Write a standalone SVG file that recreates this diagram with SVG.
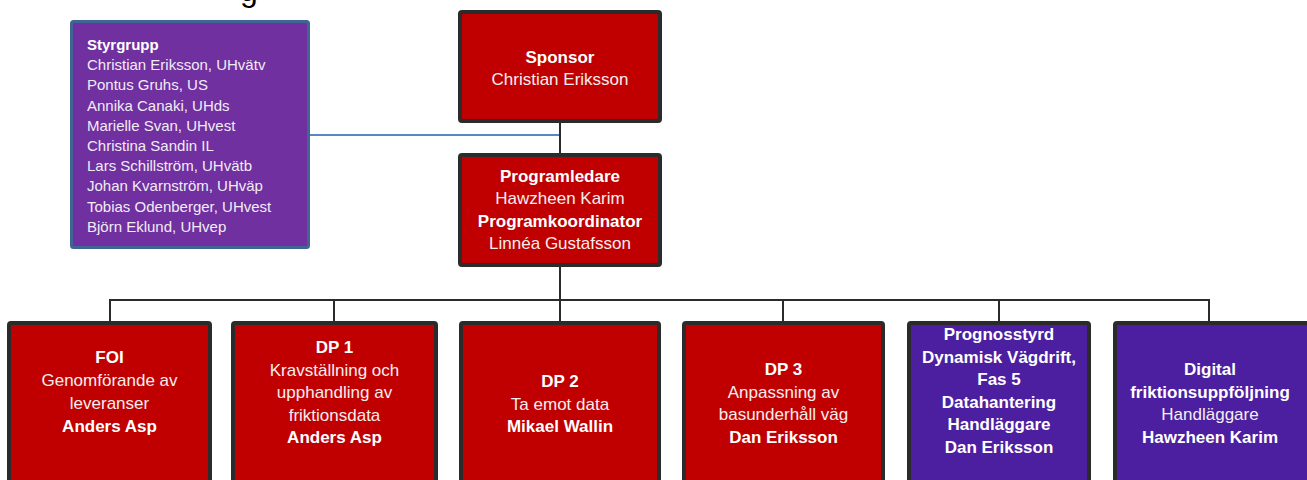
<svg xmlns="http://www.w3.org/2000/svg" width="1307" height="480" viewBox="0 0 1307 480">
<style>
  text { font-family: "Liberation Sans", Arial, sans-serif; }
  .box { stroke: #2b2b2b; stroke-width: 4; }
  .red { fill: #c00000; }
  .vio { fill: #4b1fa0; }
  .t { font-size: 17px; fill: #f4eeee; text-anchor: middle; }
  .b { font-weight: bold; fill: #ffffff; }
  .s { font-size: 15px; fill: #f1ecf6; }
  .conn { stroke: #2b2b2b; stroke-width: 2; fill: none; }
</style>
<rect width="1307" height="480" fill="#ffffff"/>
<text x="240" y="1" font-size="32" fill="#000000">g</text>
<g id="connectors">
  <line x1="310" y1="135" x2="559" y2="135" stroke="#5b87c5" stroke-width="2"/>
  <line class="conn" x1="560" y1="123" x2="560" y2="153"/>
  <line class="conn" x1="560" y1="267" x2="560" y2="321"/>
  <path class="conn" d="M110 321 V300 H1209 V321"/>
  <line class="conn" x1="334" y1="300" x2="334" y2="321"/>
  <line class="conn" x1="783" y1="300" x2="783" y2="321"/>
  <line class="conn" x1="999" y1="300" x2="999" y2="321"/>
</g>
<g id="styrgrupp">
  <rect x="71.5" y="21.5" width="237" height="226" rx="2" fill="#7030a0" stroke="#3f6594" stroke-width="3"/>
  <text class="s" x="87" y="50"><tspan font-weight="bold" fill="#ffffff">Styrgrupp</tspan><tspan x="87" dy="20.2">Christian Eriksson, UHvätv</tspan><tspan x="87" dy="20.2">Pontus Gruhs, US</tspan><tspan x="87" dy="20.2">Annika Canaki, UHds</tspan><tspan x="87" dy="20.2">Marielle Svan, UHvest</tspan><tspan x="87" dy="20.2">Christina Sandin IL</tspan><tspan x="87" dy="20.2">Lars Schillström, UHvätb</tspan><tspan x="87" dy="20.2">Johan Kvarnström, UHväp</tspan><tspan x="87" dy="20.2">Tobias Odenberger, UHvest</tspan><tspan x="87" dy="20.2">Björn Eklund, UHvep</tspan></text>
</g>
<g id="sponsor">
  <rect class="box red" x="460" y="12" width="200" height="109" rx="2"/>
  <text class="t" x="560" y="63"><tspan class="b">Sponsor</tspan><tspan x="560" dy="21.5">Christian Eriksson</tspan></text>
</g>
<g id="programledare">
  <rect class="box red" x="460" y="155" width="200" height="110" rx="2"/>
  <text class="t" x="560" y="182"><tspan class="b">Programledare</tspan><tspan x="560" dy="22.3">Hawzheen Karim</tspan><tspan x="560" dy="22.3" class="b">Programkoordinator</tspan><tspan x="560" dy="22.3">Linnéa Gustafsson</tspan></text>
</g>
<g id="foi">
  <rect class="box red" x="9" y="323" width="201" height="170" rx="2"/>
  <text class="t" x="109.5" y="363"><tspan class="b">FOI</tspan><tspan x="109.5" dy="23">Genomförande av</tspan><tspan x="109.5" dy="23">leveranser</tspan><tspan x="109.5" dy="23" class="b">Anders Asp</tspan></text>
</g>
<g id="dp1">
  <rect class="box red" x="233" y="323" width="203" height="170" rx="2"/>
  <text class="t" x="334.5" y="353"><tspan class="b">DP 1</tspan><tspan x="334.5" dy="22.5">Kravställning och</tspan><tspan x="334.5" dy="22.5">upphandling av</tspan><tspan x="334.5" dy="22.5">friktionsdata</tspan><tspan x="334.5" dy="22.5" class="b">Anders Asp</tspan></text>
</g>
<g id="dp2">
  <rect class="box red" x="461" y="323" width="198" height="170" rx="2"/>
  <text class="t" x="560" y="387"><tspan class="b">DP 2</tspan><tspan x="560" dy="22.5">Ta emot data</tspan><tspan x="560" dy="22.5" class="b">Mikael Wallin</tspan></text>
</g>
<g id="dp3">
  <rect class="box red" x="684" y="323" width="199" height="170" rx="2"/>
  <text class="t" x="783.5" y="375"><tspan class="b">DP 3</tspan><tspan x="783.5" dy="22.5">Anpassning av</tspan><tspan x="783.5" dy="22.5">basunderhåll väg</tspan><tspan x="783.5" dy="22.5" class="b">Dan Eriksson</tspan></text>
</g>
<g id="prognosstyrd">
  <rect class="box vio" x="909" y="323" width="180" height="170" rx="2"/>
  <text class="t b" x="999" y="340"><tspan>Prognosstyrd</tspan><tspan x="999" dy="22.6">Dynamisk Vägdrift,</tspan><tspan x="999" dy="22.6">Fas 5</tspan><tspan x="999" dy="22.6">Datahantering</tspan><tspan x="999" dy="22.6">Handläggare</tspan><tspan x="999" dy="22.6">Dan Eriksson</tspan></text>
</g>
<g id="digital">
  <rect class="box vio" x="1115" y="323" width="196" height="170" rx="2"/>
  <text class="t" x="1210" y="375"><tspan class="b">Digital</tspan><tspan x="1210" dy="22.6" class="b">friktionsuppföljning</tspan><tspan x="1210" dy="22.6">Handläggare</tspan><tspan x="1210" dy="22.6" class="b">Hawzheen Karim</tspan></text>
</g>
</svg>
